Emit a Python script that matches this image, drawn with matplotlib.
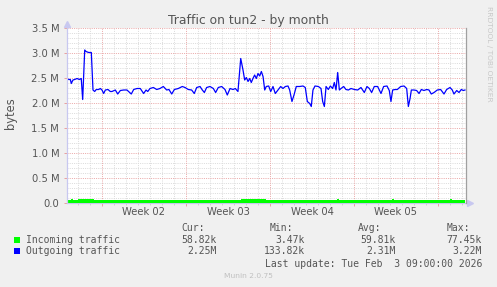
import numpy as np
import matplotlib
matplotlib.use("Agg")
import matplotlib.pyplot as plt
from matplotlib.patches import Rectangle

# ---------------- data ----------------
# time in days relative to the start of "Week 02"; values in M bytes
out_days = [-2.92, -2.78, -2.64, -2.56, -2.42, -2.28, -2.08, -1.89, -1.73, -1.61,
            -1.44, -1.33, -1.11, -0.89, -0.75, -0.61, -0.48, -0.28, -0.14, 0.0,
            0.14, 0.28, 0.5, 0.69, 0.83, 1.11, 1.31, 1.53, 1.81, 2.08,
            2.44, 2.64, 2.92, 3.19, 3.47, 3.67, 3.81, 4.0, 4.28, 4.56,
            4.83, 5.11, 5.39, 5.58, 5.81, 6.03, 6.36, 6.69, 6.92, 7.19,
            7.47, 7.69, 7.89, 8.17, 8.36, 8.53, 8.72, 9.0, 9.28, 9.47,
            9.69, 9.97, 10.25, 10.44, 10.67, 10.92, 11.11, 11.33, 11.56, 11.75,
            11.89, 12.03, 12.17, 12.31, 12.44, 12.58, 12.72, 12.86, 13.0, 13.14,
            13.28, 13.42, 13.56, 13.69, 13.89, 14.06, 14.25, 14.44, 14.67, 14.89,
            15.08, 15.28, 15.5, 15.64, 15.83, 16.0, 16.19, 16.47, 16.75, 16.94,
            17.11, 17.31, 17.44, 17.58, 17.75, 18.03, 18.25, 18.39, 18.53, 18.67,
            18.86, 19.03, 19.22, 19.36, 19.5, 19.64, 19.78, 19.92, 20.14, 20.33,
            20.53, 20.75, 21.03, 21.31, 21.58, 21.86, 22.08, 22.28, 22.47, 22.69,
            22.97, 23.25, 23.47, 23.75, 23.94, 24.08, 24.22, 24.42, 24.61, 24.89,
            25.17, 25.39, 25.53, 25.67, 25.78, 26.0, 26.22, 26.42, 26.61, 26.83,
            27.06, 27.25, 27.44, 27.67, 27.94, 28.22, 28.5, 28.72, 29.0, 29.19,
            29.33, 29.56, 29.75, 29.94, 30.11, 30.25]
out_mbytes = [2.49, 2.47, 2.47, 2.39, 2.46, 2.47, 2.49, 2.47, 2.49, 2.07,
              3.06, 3.03, 3.01, 3.01, 2.26, 2.23, 2.27, 2.27, 2.29, 2.26,
              2.19, 2.26, 2.27, 2.23, 2.23, 2.26, 2.18, 2.25, 2.26, 2.26,
              2.18, 2.27, 2.29, 2.29, 2.19, 2.26, 2.23, 2.29, 2.31, 2.27,
              2.29, 2.33, 2.26, 2.27, 2.18, 2.27, 2.29, 2.33, 2.31, 2.27,
              2.26, 2.19, 2.31, 2.33, 2.26, 2.21, 2.31, 2.33, 2.29, 2.21,
              2.31, 2.33, 2.27, 2.16, 2.29, 2.27, 2.29, 2.23, 2.89, 2.66,
              2.46, 2.51, 2.43, 2.49, 2.41, 2.49, 2.56, 2.49, 2.59, 2.54,
              2.63, 2.53, 2.26, 2.33, 2.34, 2.23, 2.33, 2.19, 2.26, 2.33,
              2.29, 2.33, 2.34, 2.26, 2.03, 2.16, 2.33, 2.33, 2.34, 2.31,
              2.03, 1.99, 1.93, 2.26, 2.34, 2.33, 2.29, 2.03, 1.93, 2.33,
              2.27, 2.34, 2.29, 2.41, 2.26, 2.61, 2.26, 2.29, 2.33, 2.27,
              2.26, 2.29, 2.27, 2.26, 2.31, 2.21, 2.33, 2.29, 2.21, 2.33,
              2.33, 2.19, 2.33, 2.34, 2.25, 2.03, 2.26, 2.27, 2.27, 2.33,
              2.34, 2.29, 1.93, 2.09, 2.26, 2.26, 2.25, 2.19, 2.27, 2.25,
              2.27, 2.26, 2.18, 2.21, 2.26, 2.27, 2.18, 2.27, 2.31, 2.26,
              2.18, 2.25, 2.21, 2.27, 2.25, 2.26]

in_days = [-2.92, -2.6, -2.4, -2.0, -1.7, -1.2, -0.7, -0.5, 11.4, 11.6,
           13.5, 13.7, 19.6, 19.75, 24.2, 24.35, 29.0, 29.15, 30.25]
in_mbytes = [0.066, 0.072, 0.066, 0.07, 0.072, 0.072, 0.066, 0.058, 0.058, 0.07,
             0.07, 0.058, 0.075, 0.058, 0.075, 0.058, 0.075, 0.058, 0.059]

week_labels = ["Week 02", "Week 03", "Week 04", "Week 05"]
week_label_days = [3.5, 10.5, 17.5, 24.5]
week_bounds = [0, 7, 14, 21, 28]
y_ticks = [0.0, 0.5, 1.0, 1.5, 2.0, 2.5, 3.0, 3.5]
y_ticklabels = ["0.0", "0.5 M", "1.0 M", "1.5 M", "2.0 M", "2.5 M", "3.0 M", "3.5 M"]

series_names = ["Incoming traffic", "Outgoing traffic"]
cur_vals = ["58.82k", "2.25M"]
min_vals = ["3.47k", "133.82k"]
avg_vals = ["59.81k", "2.31M"]
max_vals = ["77.45k", "3.22M"]
series_colors = ["#00FF00", "#0000FF"]

# ---------------- figure ----------------
W, H = 497, 287
fig = plt.figure(figsize=(W / 100, H / 100), dpi=100, facecolor="#F0F0F0")

def fx(x):
    return x / W

def fy(y):
    return 1 - y / H

TXT = "#555555"
x0, x1 = -35 / 12, (466 - 102) / 12
ax = fig.add_axes([fx(67), fy(203), (466 - 67) / W, 175 / H])
ax.set_facecolor("#FFFFFF")
ax.set_xlim(x0, x1)
ax.set_ylim(0, 3.5)
for s in ax.spines.values():
    s.set_visible(False)

# grid
gkw = dict(lw=0.72, ls=(0, (1, 1.2)))
for v in np.arange(0.1, 3.51, 0.1):
    if abs(v / 0.5 - round(v / 0.5)) > 1e-6:
        ax.axhline(v, color="#DCDCDC", zorder=0, **gkw)
for v in np.arange(0.5, 3.51, 0.5):
    ax.axhline(v, color="#EBAAAA", zorder=0.5, **gkw)
for d in range(-2, 31):
    if d % 7 != 0:
        ax.axvline(d, color="#DCDCDC", zorder=0, **gkw)
for d in week_bounds:
    ax.axvline(d, color="#EBAAAA", zorder=0.5, **gkw)

# data
ax.fill_between(in_days, 0, in_mbytes, step="post", color=series_colors[0], lw=0, zorder=3)
ax.plot(out_days, out_mbytes, color=series_colors[1], lw=0.9, zorder=3)

# axes lines with arrows
ax.plot([x0, x0], [0, 3.56], color="#C8C8F0", lw=0.9, clip_on=False, zorder=4)
ax.plot([x0], [3.58], marker="^", color="#C8C8F0", ms=4, clip_on=False, zorder=4)
ax.plot([x0, x1 + 0.15], [0, 0], color="#C8C8F0", lw=0.9, clip_on=False, zorder=2)
ax.plot([x1 + 0.3], [0], marker=">", color="#C8C8F0", ms=4, clip_on=False, zorder=4)
ax.plot([x1, x1], [0, 3.5], color="#A0A0A0", lw=0.9, clip_on=False, zorder=4)

# ticks
ax.set_yticks(y_ticks)
ax.set_yticklabels(y_ticklabels)
ax.tick_params(axis="y", length=2, width=0.7, color="#E8A0A0", pad=3.6,
               labelsize=7.2, labelcolor=TXT)
ax.set_xticks(week_bounds)
ax.set_xticklabels([])
ax.set_xticks(range(-2, 31), minor=True)
ax.tick_params(axis="x", which="major", length=2.5, width=0.7, color="#E8A0A0")
ax.tick_params(axis="x", which="minor", length=1.5, width=0.7, color="#D0D0D0")
for d, lab in zip(week_label_days, week_labels):
    ax.text(d, -9 / 175, lab, transform=ax.get_xaxis_transform(), ha="center",
            va="center", fontsize=7.2, color=TXT)

# titles
fig.text(fx(248), fy(24), "Traffic on tun2 - by month", ha="center", va="baseline",
         fontsize=8.9, color=TXT)
fig.text(fx(10), fy(113), "bytes", rotation=90, ha="center", va="center",
         fontsize=8.3, color=TXT)
fig.text(fx(488.5), fy(53.5), "RRDTOOL / TOBI OETIKER", rotation=-90, ha="center",
         va="center", fontsize=5.4, color="#C8C8C8")

# legend
mono = "DejaVu Sans Mono"
LS = 7.0
for lab, xl in zip(["Cur:", "Min:", "Avg:", "Max:"], [181, 270, 358, 447]):
    fig.text(fx(xl), fy(231), lab, ha="left", va="baseline", fontsize=LS,
             family=mono, color=TXT)
for i, yb in enumerate([243.3, 254.5]):
    fig.patches.append(Rectangle((fx(14), fy(yb - 0.3)), 6 / W, 6 / H,
                                 transform=fig.transFigure, facecolor=series_colors[i],
                                 edgecolor="none"))
    fig.text(fx(26), fy(yb), series_names[i], ha="left", va="baseline", fontsize=LS,
             family=mono, color=TXT)
    for vals, xr in zip([cur_vals, min_vals, avg_vals, max_vals], [217, 305, 396, 482]):
        fig.text(fx(xr), fy(yb), vals[i], ha="right", va="baseline", fontsize=LS,
                 family=mono, color=TXT)
fig.text(fx(482), fy(267), "Last update: Tue Feb  3 09:00:00 2026", ha="right",
         va="baseline", fontsize=LS, family=mono, color=TXT)
fig.text(fx(248), fy(276), "Munin 2.0.75", ha="center", va="center", fontsize=5.4,
         color="#C0C0C0")

fig.savefig("out.png", dpi=100, facecolor=fig.get_facecolor())
